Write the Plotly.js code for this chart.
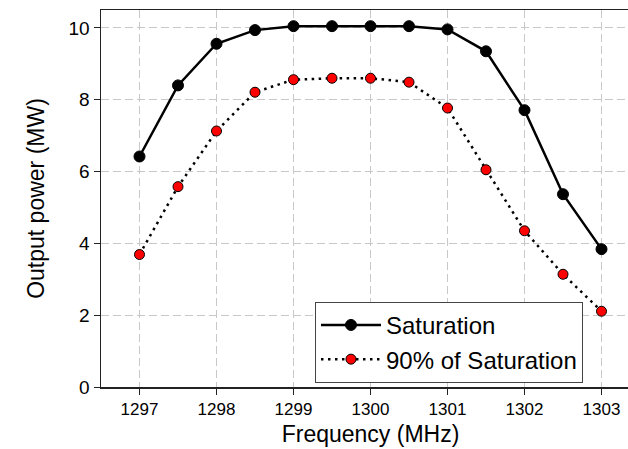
<!DOCTYPE html>
<html>
<head>
<meta charset="utf-8">
<script src="https://cdn.plot.ly/plotly-3.0.1.min.js"></script>
<style>html,body{margin:0;padding:0;overflow:hidden;background:#fff;}</style>
</head>
<body>
<div id="chart"></div>
<script>
const frequency = [1297, 1297.5, 1298, 1298.5, 1299, 1299.5, 1300, 1300.5, 1301, 1301.5, 1302, 1302.5, 1303];
const saturation = [6.42, 8.40, 9.56, 9.94, 10.05, 10.05, 10.05, 10.05, 9.96, 9.35, 7.71, 5.37, 3.84];
const saturation90 = [3.69, 5.58, 7.13, 8.21, 8.56, 8.60, 8.60, 8.49, 7.77, 6.05, 4.35, 3.14, 2.11];
const xTicks = [1297, 1298, 1299, 1300, 1301, 1302, 1303];
const yTicks = [0, 2, 4, 6, 8, 10];
const seriesNames = ['Saturation', '90% of Saturation'];

const font = 'Liberation Sans, Arial, sans-serif';
const traces = [
  {
    x: frequency, y: saturation, name: seriesNames[0], type: 'scatter', mode: 'lines+markers',
    line: {color: '#000', width: 2.5},
    marker: {color: '#000', size: 11, line: {color: '#000', width: 1}}
  },
  {
    x: frequency, y: saturation90, name: seriesNames[1], type: 'scatter', mode: 'lines+markers',
    line: {color: '#000', width: 2.5, dash: '2.5px,4.5px'},
    marker: {color: '#ff0000', size: 10, line: {color: '#000', width: 1}}
  }
];
const layout = {
  width: 660, height: 449,
  margin: {l: 101, r: 20, t: 10, b: 62},
  paper_bgcolor: '#fff', plot_bgcolor: '#fff',
  font: {family: font, color: '#000'},
  showlegend: true,
  legend: {
    x: 0.397, y: 0.011, xanchor: 'left', yanchor: 'bottom',
    bgcolor: '#fff', bordercolor: '#444', borderwidth: 1,
    font: {size: 24, family: font}, itemwidth: 60, tracegroupgap: 0
  },
  xaxis: {
    range: [1296.5, 1303.5], tickvals: xTicks, ticktext: xTicks.map(String),
    showline: true, linecolor: '#222', linewidth: 1.5, mirror: true,
    ticks: 'outside', ticklen: 6, tickcolor: '#222', tickwidth: 1,
    showgrid: true, gridcolor: '#c8c8c8', gridwidth: 1, griddash: '8px,4px',
    zeroline: false,
    tickfont: {size: 17, family: font},
    title: {text: 'Frequency (MHz)', font: {size: 23, family: font}, standoff: 8}
  },
  yaxis: {
    range: [0, 10.5], tickvals: yTicks, ticktext: yTicks.map(String),
    showline: true, linecolor: '#222', linewidth: 1.5,
    ticks: 'outside', ticklen: 6, tickcolor: '#222', tickwidth: 1,
    showgrid: true, gridcolor: '#c8c8c8', gridwidth: 1, griddash: '8px,4px',
    zeroline: false,
    tickfont: {size: 19, family: font},
    title: {text: 'Output power (MW)', font: {size: 23, family: font}, standoff: 17}
  }
};
Plotly.newPlot('chart', traces, layout, {displayModeBar: false, staticPlot: true});
</script>
</body>
</html>
